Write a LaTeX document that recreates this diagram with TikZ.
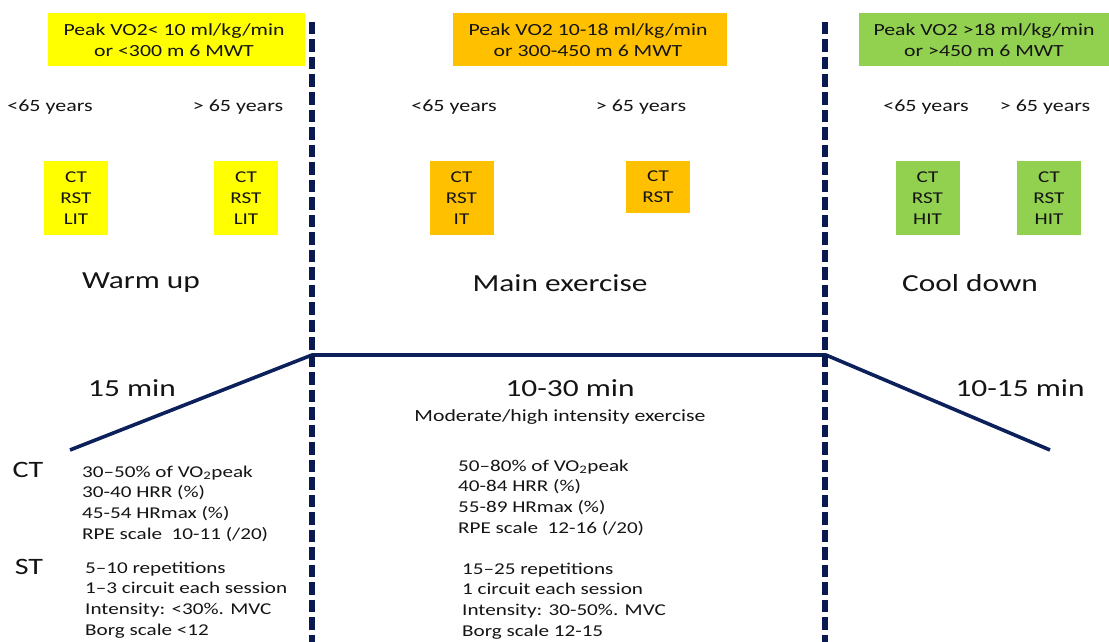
\documentclass[tikz,border=0pt]{standalone}
\usepackage{fontspec}
\setmainfont{Carlito}[FakeStretch=1.28]
\definecolor{cyel}{RGB}{255,255,0}
\definecolor{corange}{RGB}{255,192,0}
\definecolor{cgreen}{RGB}{146,208,80}
\definecolor{cnavy}{RGB}{12,32,92}
\definecolor{cdash}{RGB}{10,26,80}
\definecolor{ctext}{RGB}{20,20,20}
\begin{document}
\begin{tikzpicture}[x=1pt,y=-1pt, every node/.style={text=ctext},
  hdr/.style={inner sep=0pt, align=center, font=\fontsize{17}{21}\selectfont},
  age/.style={inner sep=0pt, font=\fontsize{17.2}{21}\selectfont},
  tbox/.style={inner sep=0pt, align=center, minimum width=64pt, font=\fontsize{16.5}{20.7}\selectfont},
  phase/.style={inner sep=0pt, font=\fontsize{24.5}{28}\selectfont},
  dur/.style={inner sep=0pt, font=\fontsize{24.5}{28}\selectfont},
  lbl/.style={inner sep=0pt, font=\fontsize{23.5}{26}\selectfont},
  blk/.style={inner sep=0pt, anchor=west, align=left, font=\fontsize{16.5}{20.7}\selectfont},
  curve/.style={draw=cnavy, line width=3.6pt},
  divider/.style={draw=cdash, line width=5.5pt, dash pattern=on 12.5pt off 5pt}
]
\useasboundingbox (0,0) rectangle (1109,642);

% header boxes
\fill[cyel] (48,13) rectangle (305,66);
\fill[corange] (453,13) rectangle (727,66);
\fill[cgreen] (859,13) rectangle (1109,66);
\node[hdr] (h1) at (174,40.5) {Peak VO2< 10 ml/kg/min\\or <300 m 6 MWT};
\node[hdr] (h2) at (588,40.5) {Peak VO2 10-18 ml/kg/min\\or 300-450 m 6 MWT};
\node[hdr] (h3) at (984,40.5) {Peak VO2 >18 ml/kg/min\\or >450 m 6 MWT};

% age labels
\node[age] (a1) at (50,107) {<65 years};
\node[age] (a2) at (238,107) {> 65 years};
\node[age] (a3) at (454,107) {<65 years};
\node[age] (a4) at (641,107) {> 65 years};
\node[age] (a5) at (926,107) {<65 years};
\node[age] (a6) at (1045,107) {> 65 years};

% training boxes
\node[tbox, fill=cyel, minimum height=74pt] (b1) at (76,198) {CT\\RST\\LIT};
\node[tbox, fill=cyel, minimum height=74pt] (b2) at (246,198) {CT\\RST\\LIT};
\node[tbox, fill=corange, minimum height=74pt] (b3) at (461.5,198) {CT\\RST\\IT};
\node[tbox, fill=corange, minimum height=52pt] (b4) at (658,187) {CT\\RST};
\node[tbox, fill=cgreen, minimum height=74pt] (b5) at (927.5,198) {CT\\RST\\HIT};
\node[tbox, fill=cgreen, minimum height=74pt] (b6) at (1049,198) {CT\\RST\\HIT};

% phases
\node[phase] (p1) at (141,283) {Warm up};
\node[phase] (p2) at (560,283) {Main exercise};
\node[phase] (p3) at (970,283) {Cool down};

% durations
\node[dur] (t1) at (132,388) {15 min};
\node[dur] (t2) at (570,388) {10-30 min};
\node[dur] (t3) at (1020,388) {10-15 min};
\node[hdr] (mod) at (560,417) {Moderate/high intensity exercise};

% curve
\coordinate (c0) at (70,450);
\coordinate (c1) at (312,355);
\coordinate (c2) at (826,355);
\coordinate (c3) at (1050,450);
\draw[curve] (c0) -- (c1) -- (c2) -- (c3);

% dividers
\coordinate (d1t) at (312,22);
\coordinate (d1b) at (312,642);
\coordinate (d2t) at (825,22);
\coordinate (d2b) at (825,642);
\draw[divider] (d1t) -- (d1b);
\draw[divider] (d2t) -- (d2b);

% row labels
\node[lbl] (ct) at (28,470) {CT};
\node[lbl] (st) at (29,567) {ST};

% text blocks
\node[blk] (l1) at (82,503.5) {30–50\% of VO\textsubscript{2}peak\\30-40 HRR (\%)\\45-54 HRmax (\%)\\RPE scale\ \ 10-11 (/20)};
\node[blk] (l2) at (85,600) {5–10 repetitions\\1–3 circuit each session\\Intensity: <30\%. MVC\\Borg scale <12};
\node[blk] (m1) at (458,497.5) {50–80\% of VO\textsubscript{2}peak\\40-84 HRR (\%)\\55-89 HRmax (\%)\\RPE scale\ \ 12-16 (/20)};
\node[blk] (m2) at (462,601) {15–25 repetitions\\1 circuit each session\\Intensity: 30-50\%. MVC\\Borg scale 12-15};
\end{tikzpicture}
\end{document}
